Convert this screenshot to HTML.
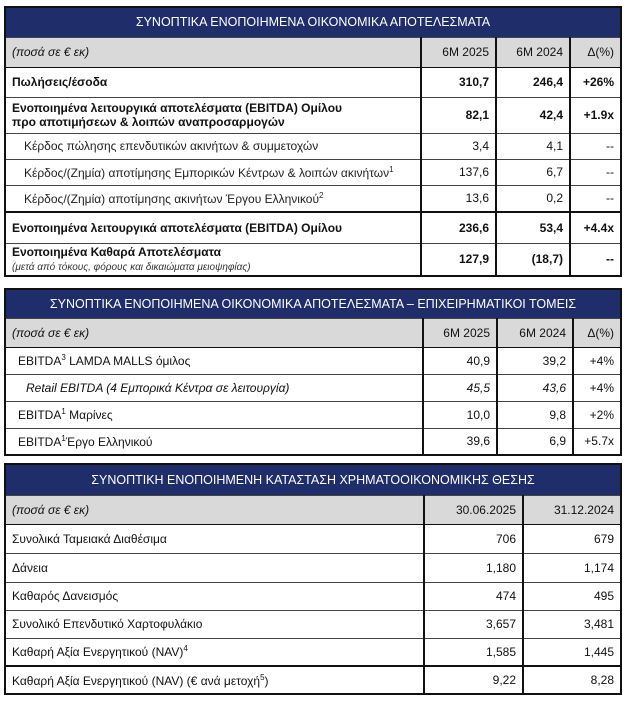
<!DOCTYPE html>
<html><head><meta charset="utf-8"><style>
body{margin:0;width:626px;height:705px;background:#fff;font-family:"Liberation Sans","DejaVu Sans",sans-serif;font-size:12px;color:#111;position:relative;overflow:hidden}
table{position:absolute;left:4px;width:618px;border-collapse:collapse;border:2px solid #111;table-layout:fixed}
td{border-top:1px solid #444;padding:0 6px;white-space:nowrap;overflow:hidden}
td.n{text-align:right;border-left:2px solid #111}
.h td{background:#1f2d6b;color:#fff;text-align:center;font-size:12.5px;border:none}
.s td{background:#d9d9d9;border-bottom:1px solid #111}
.s td.n{text-align:right}
.b td{font-weight:bold}
.i{padding-left:18px;color:#222}
.sm{font-size:10px;font-style:italic;font-weight:normal;color:#333}
sup{font-size:8px}
</style></head><body>

<table style="top:6px">
<colgroup><col style="width:416px"><col style="width:75px"><col style="width:74px"><col></colgroup>
<tr class="h" style="height:30px"><td colspan="4">ΣΥΝΟΠΤΙΚΑ ΕΝΟΠΟΙΗΜΕΝΑ ΟΙΚΟΝΟΜΙΚΑ ΑΠΟΤΕΛΕΣΜΑΤΑ</td></tr>
<tr class="s" style="height:30px"><td><i>(ποσά σε € εκ)</i></td><td class="n">6M 2025</td><td class="n">6M 2024</td><td class="n">Δ(%)</td></tr>
<tr class="b" style="height:30px"><td>Πωλήσεις/έσοδα</td><td class="n">310,7</td><td class="n">246,4</td><td class="n">+26%</td></tr>
<tr class="b" style="height:36px"><td>Ενοποιημένα λειτουργικά αποτελέσματα (EBITDA) Ομίλου<br>προ αποτιμήσεων &amp; λοιπών αναπροσαρμογών</td><td class="n">82,1</td><td class="n">42,4</td><td class="n">+1.9x</td></tr>
<tr style="height:26px"><td class="i">Κέρδος πώλησης επενδυτικών ακινήτων &amp; συμμετοχών</td><td class="n">3,4</td><td class="n">4,1</td><td class="n">--</td></tr>
<tr style="height:26px"><td class="i">Κέρδος/(Ζημία) αποτίμησης Εμπορικών Κέντρων &amp; λοιπών ακινήτων<sup>1</sup></td><td class="n">137,6</td><td class="n">6,7</td><td class="n">--</td></tr>
<tr style="height:27px"><td class="i">Κέρδος/(Ζημία) αποτίμησης ακινήτων Έργου Ελληνικού<sup>2</sup></td><td class="n">13,6</td><td class="n">0,2</td><td class="n">--</td></tr>
<tr class="b" style="height:31px;border-top:2px solid #111"><td>Ενοποιημένα λειτουργικά αποτελέσματα (EBITDA) Ομίλου</td><td class="n">236,6</td><td class="n">53,4</td><td class="n">+4.4x</td></tr>
<tr class="b" style="height:33px"><td>Ενοποιημένα Καθαρά Αποτελέσματα<br><span class="sm">(μετά από τόκους, φόρους και δικαιώματα μειοψηφίας)</span></td><td class="n">127,9</td><td class="n">(18,7)</td><td class="n">--</td></tr>
</table>

<table style="top:288px">
<colgroup><col style="width:418px"><col style="width:74px"><col style="width:76px"><col></colgroup>
<tr class="h" style="height:29px"><td colspan="4">ΣΥΝΟΠΤΙΚΑ ΕΝΟΠΟΙΗΜΕΝΑ ΟΙΚΟΝΟΜΙΚΑ ΑΠΟΤΕΛΕΣΜΑΤΑ – ΕΠΙΧΕΙΡΗΜΑΤΙΚΟΙ ΤΟΜΕΙΣ</td></tr>
<tr class="s" style="height:29px"><td><i>(ποσά σε € εκ)</i></td><td class="n">6M 2025</td><td class="n">6M 2024</td><td class="n">Δ(%)</td></tr>
<tr style="height:27px"><td style="padding-left:12px">EBITDA<sup>3</sup> LAMDA MALLS όμιλος</td><td class="n">40,9</td><td class="n">39,2</td><td class="n">+4%</td></tr>
<tr style="height:27px"><td style="padding-left:20px"><i>Retail EBITDA (4 Εμπορικά Κέντρα σε λειτουργία)</i></td><td class="n"><i>45,5</i></td><td class="n"><i>43,6</i></td><td class="n">+4%</td></tr>
<tr style="height:27px"><td style="padding-left:12px">EBITDA<sup>1</sup> Μαρίνες</td><td class="n">10,0</td><td class="n">9,8</td><td class="n">+2%</td></tr>
<tr style="height:27px"><td style="padding-left:12px">EBITDA<sup>1</sup>Έργο Ελληνικού</td><td class="n">39,6</td><td class="n">6,9</td><td class="n">+5.7x</td></tr>
</table>

<table style="top:463px">
<colgroup><col style="width:419px"><col style="width:99px"><col></colgroup>
<tr class="h" style="height:31px"><td colspan="3">ΣΥΝΟΠΤΙΚΗ ΕΝΟΠΟΙΗΜΕΝΗ ΚΑΤΑΣΤΑΣΗ ΧΡΗΜΑΤΟΟΙΚΟΝΟΜΙΚΗΣ ΘΕΣΗΣ</td></tr>
<tr class="s" style="height:29px"><td><i>(ποσά σε € εκ)</i></td><td class="n">30.06.2025</td><td class="n">31.12.2024</td></tr>
<tr style="height:29px"><td>Συνολικά Ταμειακά Διαθέσιμα</td><td class="n">706</td><td class="n">679</td></tr>
<tr style="height:29px"><td>Δάνεια</td><td class="n">1,180</td><td class="n">1,174</td></tr>
<tr style="height:28px"><td>Καθαρός Δανεισμός</td><td class="n">474</td><td class="n">495</td></tr>
<tr style="height:28px"><td>Συνολικό Επενδυτικό Χαρτοφυλάκιο</td><td class="n">3,657</td><td class="n">3,481</td></tr>
<tr style="height:28px"><td>Καθαρή Αξία Ενεργητικού (NAV)<sup>4</sup></td><td class="n">1,585</td><td class="n">1,445</td></tr>
<tr style="height:28px;border-top:2px solid #111"><td>Καθαρή Αξία Ενεργητικού (NAV) (€ ανά μετοχή<sup>5</sup>)</td><td class="n">9,22</td><td class="n">8,28</td></tr>
</table>
</body></html>
